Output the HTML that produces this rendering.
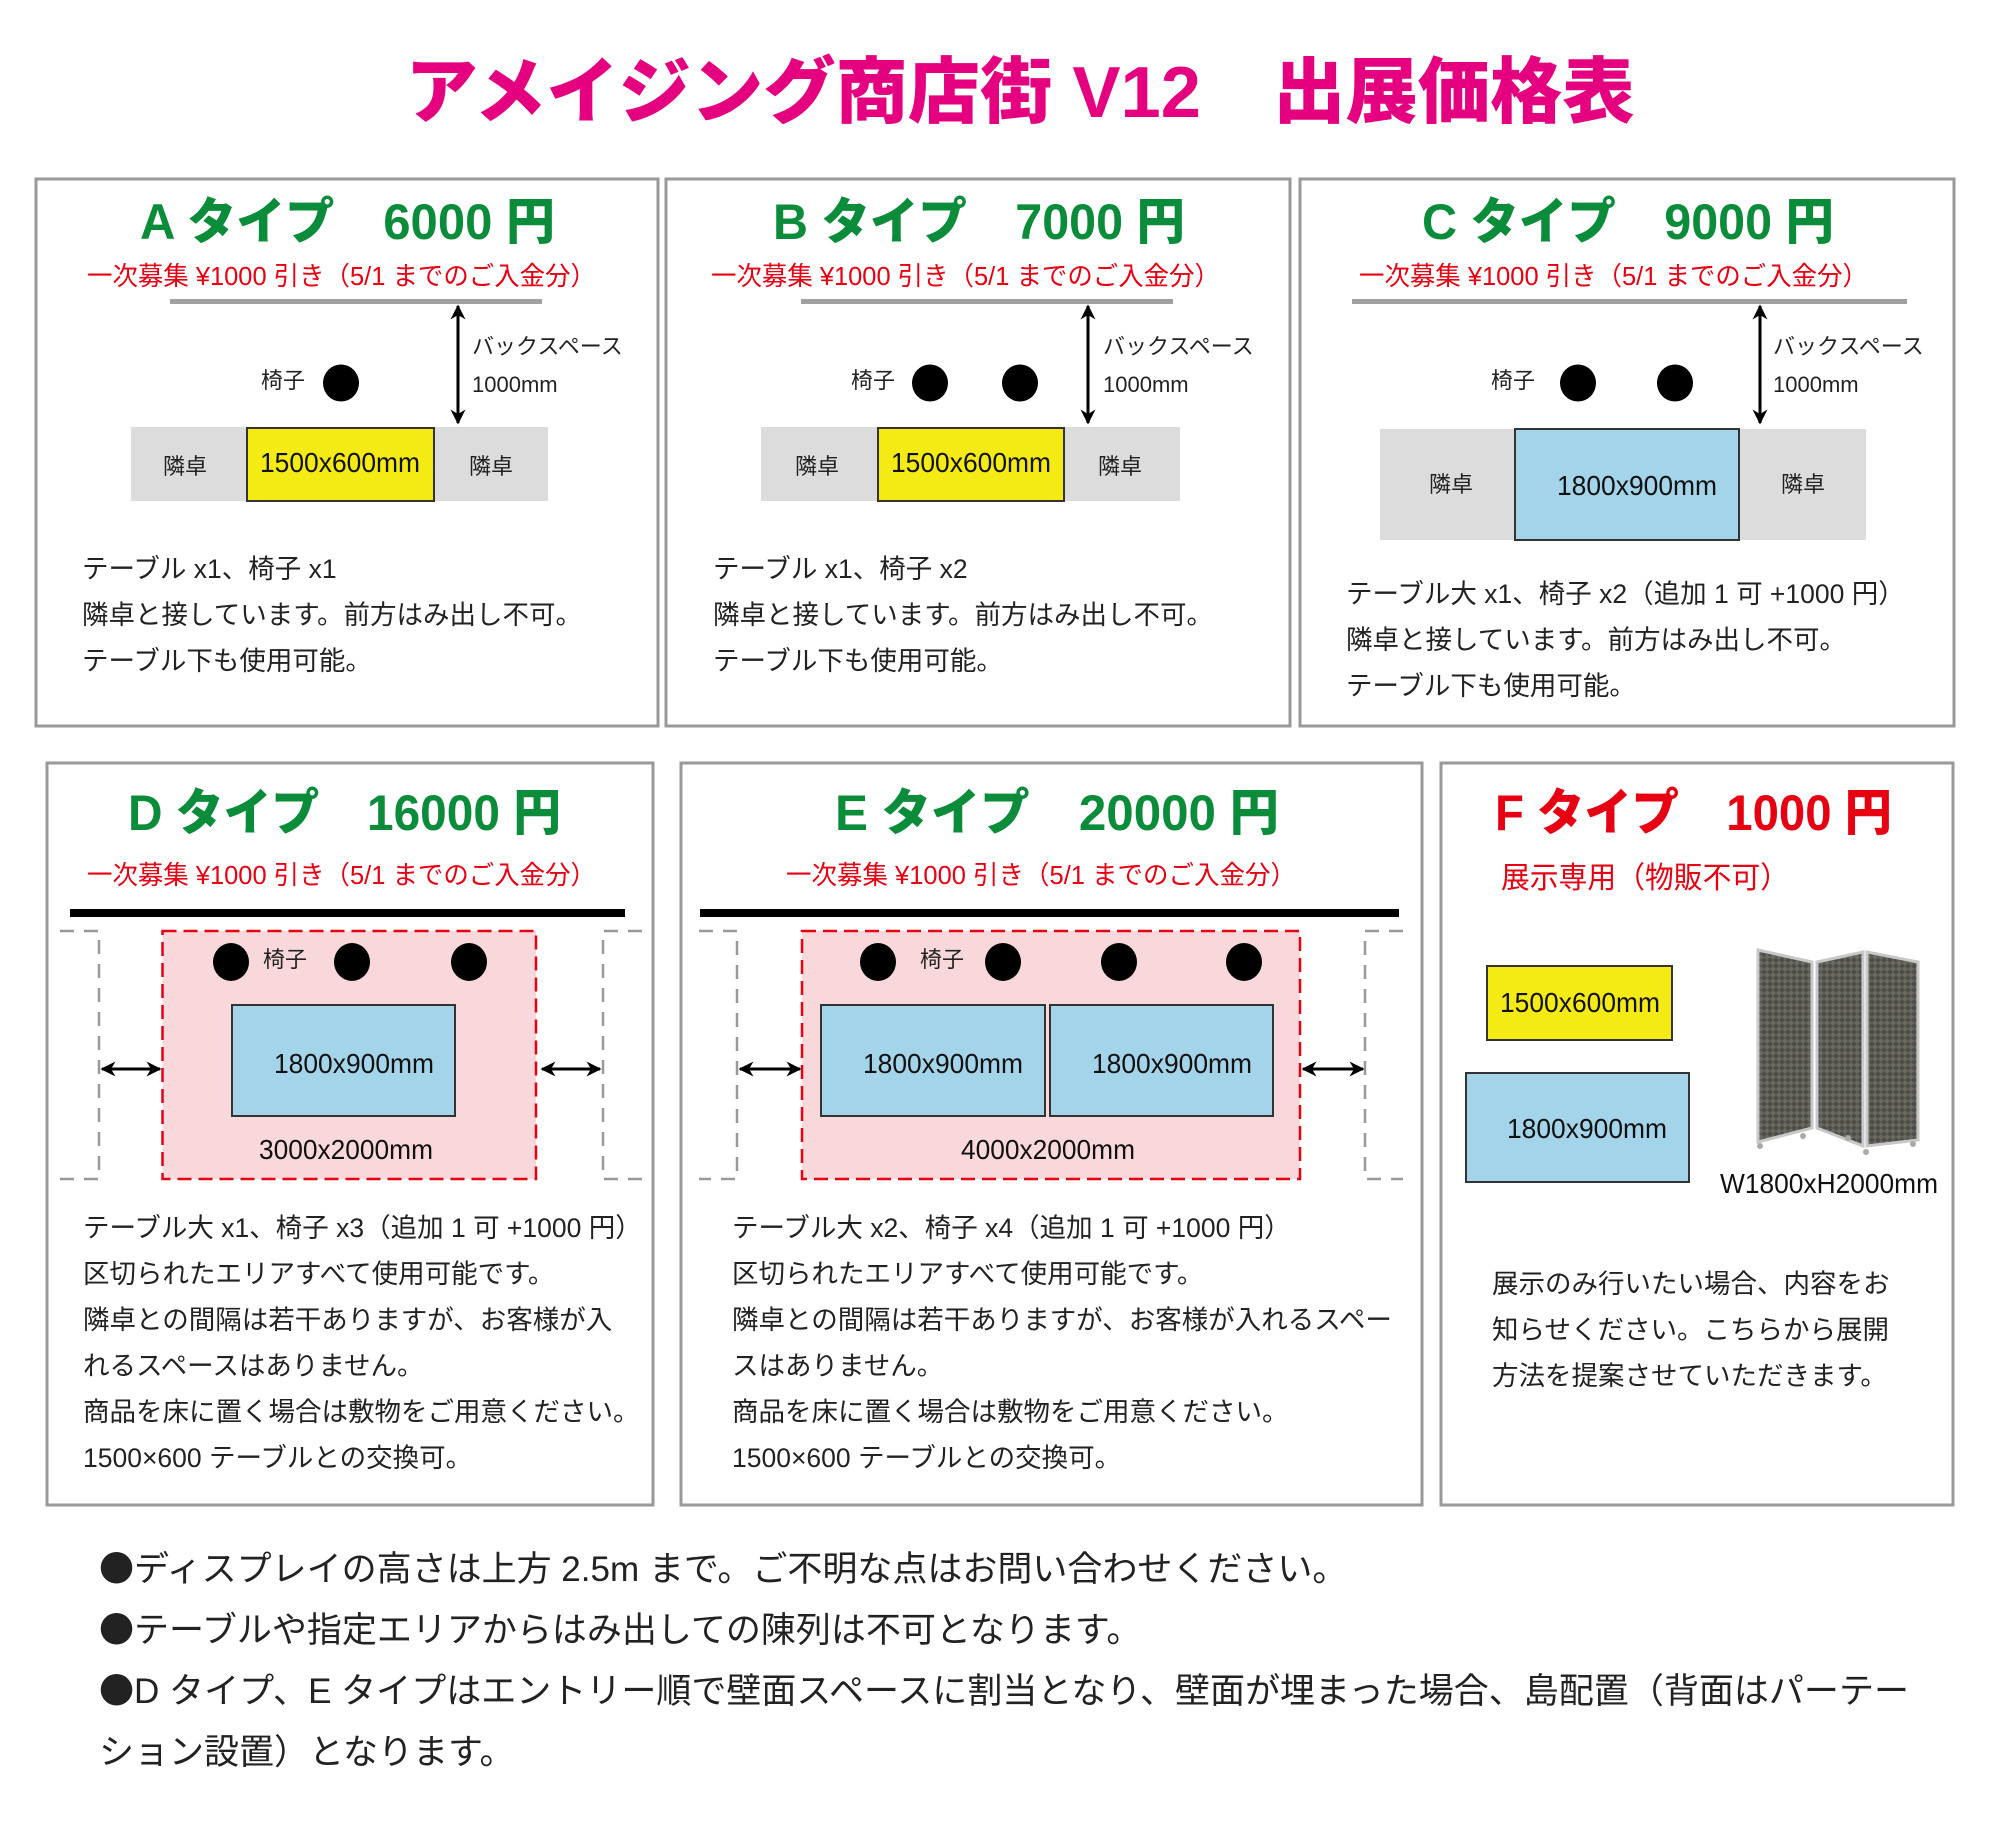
<!DOCTYPE html>
<html><head><meta charset="utf-8"><style>
html,body{margin:0;padding:0;background:#fff}
svg{display:block}
text{font-family:"Liberation Sans","Noto Sans CJK JP",sans-serif}
.t{font-weight:900;font-size:50px}
.g{fill:#0b8c3a}
.sub{fill:#e60012;font-size:26px}
.d{font-size:26.5px;fill:#222}
.s{font-size:22px;fill:#222}
.m{font-size:28px;fill:#111}
.n{font-size:35px;fill:#222}
.b{font-family:"Noto Sans CJK JP",sans-serif;font-size:35px}
</style></head><body>
<svg width="2000" height="1834" viewBox="0 0 2000 1834" xmlns="http://www.w3.org/2000/svg">
<defs>
<marker id="ah" viewBox="0 0 10 10" refX="9" refY="5" markerWidth="5" markerHeight="5" orient="auto-start-reverse"><path d="M0,0 L10,5 L0,10 L3,5 z" fill="#000"/></marker>
<pattern id="wv" width="6" height="6" patternUnits="userSpaceOnUse"><rect width="6" height="6" fill="#4e4e48"/><path d="M0,3 L3,0 L6,3 L3,6z" fill="#6a6a62"/></pattern>
</defs>

<text x="1020" y="117" text-anchor="middle" font-size="72" font-weight="900" fill="#e4007f" textLength="1229" lengthAdjust="spacingAndGlyphs">アメイジング商店街 V12　出展価格表</text>

<g fill="none" stroke="#999" stroke-width="3">
<rect x="36" y="179" width="622" height="547"/>
<rect x="666" y="179" width="624" height="547"/>
<rect x="1300" y="179" width="654" height="547"/>
<rect x="47" y="763" width="606" height="742"/>
<rect x="681" y="763" width="741" height="742"/>
<rect x="1441" y="763" width="512" height="742"/>
</g>

<!-- A -->
<text class="t g" x="140" y="239" textLength="415" lengthAdjust="spacingAndGlyphs">A タイプ　6000 円</text>
<text class="sub" x="87" y="285" textLength="509" lengthAdjust="spacingAndGlyphs">一次募集 ¥1000 引き（5/1 までのご入金分）</text>
<rect x="170" y="299" width="372" height="5" fill="#a0a0a0"/>
<line x1="458" y1="306" x2="458" y2="423" stroke="#000" stroke-width="3" marker-start="url(#ah)" marker-end="url(#ah)"/>
<text class="s" x="472" y="354">バックスペース</text>
<text class="s" x="472" y="392">1000mm</text>
<text class="s" x="261" y="388">椅子</text>
<ellipse cx="341" cy="383" rx="18" ry="18.5"/>
<rect x="131" y="427" width="417" height="74" fill="#dcdcdc"/>
<rect x="247" y="428" width="187" height="73" fill="#f5eb14" stroke="#333" stroke-width="2"/>
<text class="s" x="185" y="474" text-anchor="middle">隣卓</text>
<text class="s" x="491" y="474" text-anchor="middle">隣卓</text>
<text class="m" x="340" y="472" text-anchor="middle" textLength="160" lengthAdjust="spacingAndGlyphs">1500x600mm</text>
<text class="d" x="82" y="578">テーブル x1、椅子 x1</text>
<text class="d" x="82" y="624">隣卓と接しています。前方はみ出し不可。</text>
<text class="d" x="82" y="670">テーブル下も使用可能。</text>

<!-- B -->
<text class="t g" x="773" y="239" textLength="412" lengthAdjust="spacingAndGlyphs">B タイプ　7000 円</text>
<text class="sub" x="711" y="285" textLength="509" lengthAdjust="spacingAndGlyphs">一次募集 ¥1000 引き（5/1 までのご入金分）</text>
<rect x="801" y="299" width="372" height="5" fill="#a0a0a0"/>
<line x1="1088" y1="306" x2="1088" y2="423" stroke="#000" stroke-width="3" marker-start="url(#ah)" marker-end="url(#ah)"/>
<text class="s" x="1103" y="354">バックスペース</text>
<text class="s" x="1103" y="392">1000mm</text>
<text class="s" x="851" y="388">椅子</text>
<ellipse cx="930" cy="383" rx="18" ry="18.5"/>
<ellipse cx="1020" cy="383" rx="18" ry="18.5"/>
<rect x="761" y="427" width="419" height="74" fill="#dcdcdc"/>
<rect x="878" y="428" width="186" height="73" fill="#f5eb14" stroke="#333" stroke-width="2"/>
<text class="s" x="817" y="474" text-anchor="middle">隣卓</text>
<text class="s" x="1120" y="474" text-anchor="middle">隣卓</text>
<text class="m" x="971" y="472" text-anchor="middle" textLength="160" lengthAdjust="spacingAndGlyphs">1500x600mm</text>
<text class="d" x="713" y="578">テーブル x1、椅子 x2</text>
<text class="d" x="713" y="624">隣卓と接しています。前方はみ出し不可。</text>
<text class="d" x="713" y="670">テーブル下も使用可能。</text>

<!-- C -->
<text class="t g" x="1422" y="239" textLength="412" lengthAdjust="spacingAndGlyphs">C タイプ　9000 円</text>
<text class="sub" x="1359" y="285" textLength="509" lengthAdjust="spacingAndGlyphs">一次募集 ¥1000 引き（5/1 までのご入金分）</text>
<rect x="1352" y="299" width="555" height="5" fill="#a0a0a0"/>
<line x1="1760" y1="306" x2="1760" y2="423" stroke="#000" stroke-width="3" marker-start="url(#ah)" marker-end="url(#ah)"/>
<text class="s" x="1773" y="354">バックスペース</text>
<text class="s" x="1773" y="392">1000mm</text>
<text class="s" x="1491" y="388">椅子</text>
<ellipse cx="1578" cy="383" rx="18" ry="18.5"/>
<ellipse cx="1675" cy="383" rx="18" ry="18.5"/>
<rect x="1380" y="429" width="486" height="111" fill="#dcdcdc"/>
<rect x="1515" y="429" width="224" height="111" fill="#a3d4ea" stroke="#333" stroke-width="2"/>
<text class="s" x="1451" y="492" text-anchor="middle">隣卓</text>
<text class="s" x="1803" y="492" text-anchor="middle">隣卓</text>
<text class="m" x="1637" y="495" text-anchor="middle" textLength="160" lengthAdjust="spacingAndGlyphs">1800x900mm</text>
<text class="d" x="1346" y="603">テーブル大 x1、椅子 x2（追加 1 可 +1000 円）</text>
<text class="d" x="1346" y="649">隣卓と接しています。前方はみ出し不可。</text>
<text class="d" x="1346" y="695">テーブル下も使用可能。</text>

<!-- D -->
<text class="t g" x="128" y="830" textLength="433" lengthAdjust="spacingAndGlyphs">D タイプ　16000 円</text>
<text class="sub" x="87" y="884" textLength="509" lengthAdjust="spacingAndGlyphs">一次募集 ¥1000 引き（5/1 までのご入金分）</text>
<rect x="70" y="909" width="555" height="8" fill="#000"/>
<rect x="162.5" y="931" width="373.5" height="248" fill="#f8d8da" stroke="#e60012" stroke-width="2.5" stroke-dasharray="14 7"/>
<g fill="none" stroke="#999" stroke-width="2.5" stroke-dasharray="14 10">
<path d="M60,931 H99 V1179 H60"/><path d="M642,931 H603 V1179 H642"/>
</g>
<line x1="102" y1="1069" x2="160" y2="1069" stroke="#000" stroke-width="3" marker-start="url(#ah)" marker-end="url(#ah)"/>
<line x1="542" y1="1069" x2="600" y2="1069" stroke="#000" stroke-width="3" marker-start="url(#ah)" marker-end="url(#ah)"/>
<ellipse cx="231" cy="962" rx="18" ry="19"/>
<ellipse cx="352" cy="962" rx="18" ry="19"/>
<ellipse cx="469" cy="962" rx="18" ry="19"/>
<text class="s" x="263" y="967">椅子</text>
<rect x="232" y="1005" width="223" height="111" fill="#a3d4ea" stroke="#333" stroke-width="2"/>
<text class="m" x="354" y="1073" text-anchor="middle" textLength="160" lengthAdjust="spacingAndGlyphs">1800x900mm</text>
<text class="m" x="346" y="1159" text-anchor="middle" textLength="174" lengthAdjust="spacingAndGlyphs">3000x2000mm</text>
<text class="d" x="83" y="1237">テーブル大 x1、椅子 x3（追加 1 可 +1000 円）</text>
<text class="d" x="83" y="1283">区切られたエリアすべて使用可能です。</text>
<text class="d" x="83" y="1329">隣卓との間隔は若干ありますが、お客様が入</text>
<text class="d" x="83" y="1375">れるスペースはありません。</text>
<text class="d" x="83" y="1421">商品を床に置く場合は敷物をご用意ください。</text>
<text class="d" x="83" y="1467">1500×600 テーブルとの交換可。</text>

<!-- E -->
<text class="t g" x="835" y="830" textLength="444" lengthAdjust="spacingAndGlyphs">E タイプ　20000 円</text>
<text class="sub" x="786" y="884" textLength="510" lengthAdjust="spacingAndGlyphs">一次募集 ¥1000 引き（5/1 までのご入金分）</text>
<rect x="700" y="909" width="699" height="8" fill="#000"/>
<rect x="802" y="931" width="498" height="248" fill="#f8d8da" stroke="#e60012" stroke-width="2.5" stroke-dasharray="14 7"/>
<g fill="none" stroke="#999" stroke-width="2.5" stroke-dasharray="14 10">
<path d="M699,931 H737 V1179 H699"/><path d="M1403,931 H1365 V1179 H1403"/>
</g>
<line x1="740" y1="1069" x2="800" y2="1069" stroke="#000" stroke-width="3" marker-start="url(#ah)" marker-end="url(#ah)"/>
<line x1="1303" y1="1069" x2="1363" y2="1069" stroke="#000" stroke-width="3" marker-start="url(#ah)" marker-end="url(#ah)"/>
<ellipse cx="878" cy="962" rx="18" ry="19"/>
<ellipse cx="1003" cy="962" rx="18" ry="19"/>
<ellipse cx="1119" cy="962" rx="18" ry="19"/>
<ellipse cx="1244" cy="962" rx="18" ry="19"/>
<text class="s" x="920" y="967">椅子</text>
<rect x="821" y="1005" width="224" height="111" fill="#a3d4ea" stroke="#333" stroke-width="2"/>
<rect x="1050" y="1005" width="223" height="111" fill="#a3d4ea" stroke="#333" stroke-width="2"/>
<text class="m" x="943" y="1073" text-anchor="middle" textLength="160" lengthAdjust="spacingAndGlyphs">1800x900mm</text>
<text class="m" x="1172" y="1073" text-anchor="middle" textLength="160" lengthAdjust="spacingAndGlyphs">1800x900mm</text>
<text class="m" x="1048" y="1159" text-anchor="middle" textLength="174" lengthAdjust="spacingAndGlyphs">4000x2000mm</text>
<text class="d" x="732" y="1237">テーブル大 x2、椅子 x4（追加 1 可 +1000 円）</text>
<text class="d" x="732" y="1283">区切られたエリアすべて使用可能です。</text>
<text class="d" x="732" y="1329">隣卓との間隔は若干ありますが、お客様が入れるスペー</text>
<text class="d" x="732" y="1375">スはありません。</text>
<text class="d" x="732" y="1421">商品を床に置く場合は敷物をご用意ください。</text>
<text class="d" x="732" y="1467">1500×600 テーブルとの交換可。</text>

<!-- F -->
<text class="t" x="1495" y="830" fill="#e60012" textLength="397" lengthAdjust="spacingAndGlyphs">F タイプ　1000 円</text>
<text x="1501" y="888" font-size="30" fill="#e60012" textLength="288" lengthAdjust="spacingAndGlyphs">展示専用（物販不可）</text>
<rect x="1487" y="966" width="185" height="74" fill="#f5eb14" stroke="#333" stroke-width="2"/>
<text class="m" x="1580" y="1012" text-anchor="middle" textLength="160" lengthAdjust="spacingAndGlyphs">1500x600mm</text>
<rect x="1466" y="1073" width="223" height="109" fill="#a3d4ea" stroke="#333" stroke-width="2"/>
<text class="m" x="1587" y="1138" text-anchor="middle" textLength="160" lengthAdjust="spacingAndGlyphs">1800x900mm</text>
<g stroke="#c8c8c8" stroke-width="3">
<polygon points="1758,950 1812,962 1812,1128 1758,1142" fill="url(#wv)"/>
<polygon points="1817,962 1863,952 1863,1146 1817,1128" fill="url(#wv)"/>
<polygon points="1867,952 1918,962 1918,1140 1867,1146" fill="url(#wv)"/>
</g>
<g fill="#aaa"><circle cx="1760" cy="1146" r="3"/><circle cx="1803" cy="1136" r="3"/><circle cx="1848" cy="1138" r="3"/><circle cx="1866" cy="1152" r="3"/><circle cx="1913" cy="1144" r="3"/></g>
<text class="m" x="1829" y="1193" text-anchor="middle" font-size="27" textLength="218" lengthAdjust="spacingAndGlyphs">W1800xH2000mm</text>
<text class="d" x="1492" y="1293">展示のみ行いたい場合、内容をお</text>
<text class="d" x="1492" y="1339">知らせください。こちらから展開</text>
<text class="d" x="1492" y="1385">方法を提案させていただきます。</text>

<!-- notes -->
<text class="n" x="99" y="1581"><tspan class="b">●</tspan>ディスプレイの高さは上方 2.5m まで。ご不明な点はお問い合わせください。</text>
<text class="n" x="99" y="1642"><tspan class="b">●</tspan>テーブルや指定エリアからはみ出しての陳列は不可となります。</text>
<text class="n" x="99" y="1703" textLength="1810" lengthAdjust="spacingAndGlyphs"><tspan class="b">●</tspan>D タイプ、E タイプはエントリー順で壁面スペースに割当となり、壁面が埋まった場合、島配置（背面はパーテー</text>
<text class="n" x="99" y="1764">ション設置）となります。</text>
</svg>
</body></html>
